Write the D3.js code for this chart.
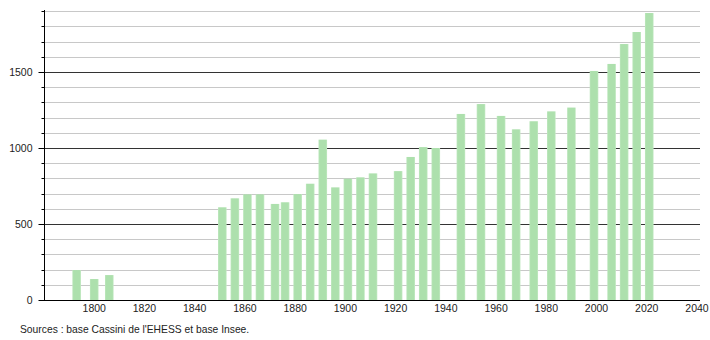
<!DOCTYPE html>
<html><head><meta charset="utf-8">
<script src="https://cdn.jsdelivr.net/npm/d3@7"></script>
<style>body{margin:0;background:#fff;}svg{display:block;font-family:"Liberation Sans",Arial,sans-serif;}</style>
</head><body>
<svg id="c" width="710" height="340"></svg>
<script>
const years = [1793,1800,1806,1851,1856,1861,1866,1872,1876,1881,1886,1891,1896,1901,1906,1911,1921,1926,1931,1936,1946,1954,1962,1968,1975,1982,1990,1999,2006,2011,2016,2021];
const population = [197,138,164,610,669,695,695,632,643,697,765,1055,741,798,807,833,848,941,1006,1000,1224,1289,1211,1123,1176,1241,1266,1507,1553,1684,1763,1888];
const xTicks = [1800,1820,1840,1860,1880,1900,1920,1940,1960,1980,2000,2020,2040];
const yMajor = [0,500,1000,1500];
const yMinor = d3.range(100,2000,100).filter(v=>v%500!==0);
const sourceText = "Sources : base Cassini de l'EHESS et base Insee.";

const svg = d3.select("#c");
const x = d3.scaleLinear().domain([1780,2041.2]).range([44,700]);
const y = d3.scaleLinear().domain([0,1900]).range([300,11.2]);

const defs = svg.append("defs");
const g = defs.append("linearGradient").attr("id","bg").attr("x1","0").attr("x2","1").attr("y1","0").attr("y2","0");
g.append("stop").attr("offset","0").attr("stop-color","#bfe8bf");
g.append("stop").attr("offset","0.15").attr("stop-color","#ade0ad");
g.append("stop").attr("offset","0.85").attr("stop-color","#ade0ad");
g.append("stop").attr("offset","1").attr("stop-color","#c4eac4");

// minor grid
svg.append("g").selectAll("line").data(yMinor).join("line")
  .attr("x1",44).attr("x2",700).attr("y1",d=>Math.round(y(d))+0.5).attr("y2",d=>Math.round(y(d))+0.5)
  .attr("stroke","#c8c8c8").attr("stroke-width",1);
// major grid
svg.append("g").selectAll("line").data(yMajor.filter(d=>d>0)).join("line")
  .attr("x1",44).attr("x2",700).attr("y1",d=>Math.round(y(d))+0.5).attr("y2",d=>Math.round(y(d))+0.5)
  .attr("stroke","#333").attr("stroke-width",1);

// bars
const bw = 8.6;
svg.append("g").selectAll("rect").data(years.map((yr,i)=>({yr,v:population[i]}))).join("rect")
  .attr("x",d=>x(d.yr)-bw/2).attr("width",bw)
  .attr("y",d=>y(d.v)).attr("height",d=>y(0)-y(d.v))
  .attr("fill","url(#bg)");

// y axis
const ya = svg.append("g").attr("transform","translate(44.5,0)");
ya.append("line").attr("x1",0).attr("x2",0).attr("y1",10).attr("y2",300).attr("stroke","#000");
ya.selectAll(".mn").data(yMinor).join("line").attr("class","mn")
  .attr("x1",-3).attr("x2",0).attr("y1",d=>Math.round(y(d))+0.5).attr("y2",d=>Math.round(y(d))+0.5).attr("stroke","#000");
ya.selectAll(".mj").data(yMajor).join("line").attr("class","mj")
  .attr("x1",-6).attr("x2",0).attr("y1",d=>Math.round(y(d))+0.5).attr("y2",d=>Math.round(y(d))+0.5).attr("stroke","#000");
ya.selectAll("text").data(yMajor).join("text")
  .attr("x",-12).attr("y",d=>y(d)+4).attr("text-anchor","end")
  .attr("font-size",10.5).attr("fill","#222").text(d=>d);

// x axis
svg.append("line").attr("x1",44).attr("x2",700).attr("y1",300.5).attr("y2",300.5).attr("stroke","#000");
svg.append("g").selectAll("text").data(xTicks).join("text")
  .attr("x",d=>x(d)).attr("y",312).attr("text-anchor","middle")
  .attr("font-size",10.5).attr("fill","#222").text(d=>d);

svg.append("text").attr("x",20).attr("y",333).attr("font-size",10.3).attr("fill","#222").text(sourceText);
</script>
</body></html>
